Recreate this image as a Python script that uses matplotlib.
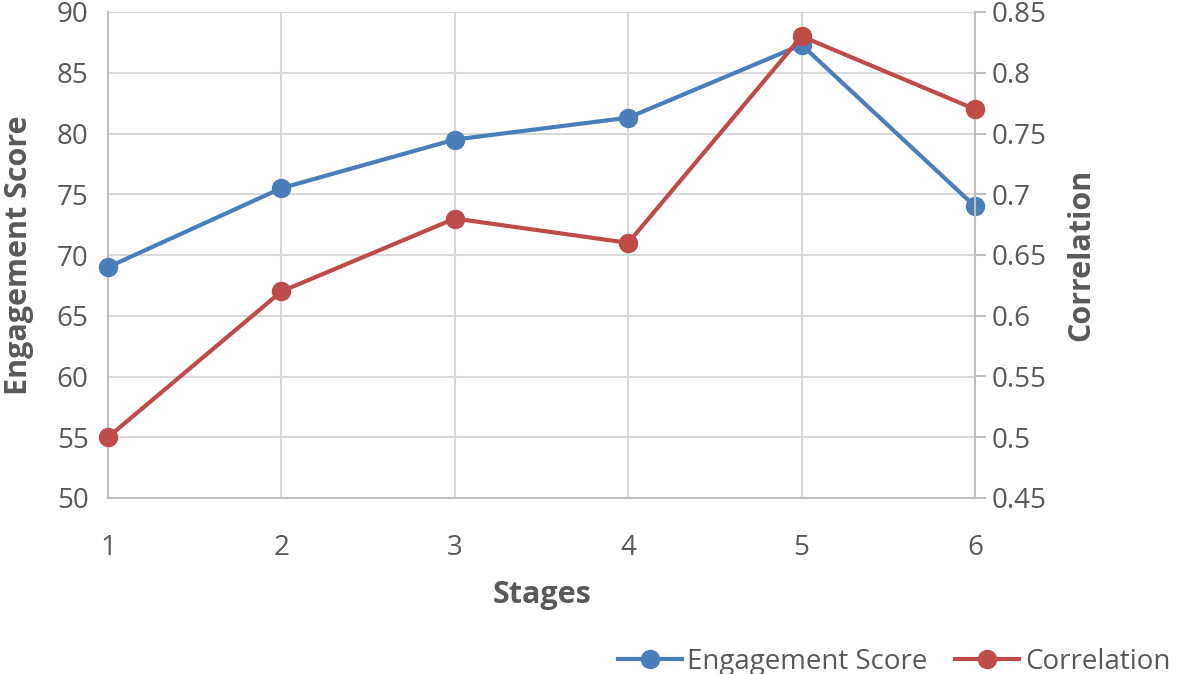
import matplotlib
matplotlib.use('Agg')
import matplotlib.pyplot as plt

plt.rcParams['font.family'] = ['Open Sans', 'DejaVu Sans']

stages = [1, 2, 3, 4, 5, 6]
engagement = [69.0, 75.5, 79.5, 81.3, 87.3, 74.0]
correlation = [0.50, 0.62, 0.68, 0.66, 0.83, 0.77]

blue = '#4a7ebb'
red = '#be4b48'
grey_txt = '#595959'
grid_c = '#d9d9d9'

fig = plt.figure(figsize=(11.81, 6.74), dpi=100)
ax = fig.add_axes([108 / 1181, 1 - 498 / 674, (975 - 108) / 1181, (498 - 12) / 674])
ax2 = ax.twinx()

l1, = ax.plot(stages, engagement, color=blue, lw=3, marker='o', ms=13,
              label='Engagement Score', zorder=3, clip_on=False)
l2, = ax2.plot(stages, correlation, color=red, lw=3, marker='o', ms=13,
               label='Correlation', zorder=3, clip_on=False)

ax.set_xlim(1, 6)
ax.set_ylim(50, 90)
ax.set_yticks(range(50, 91, 5))
ax.set_xticks(stages)
ax2.set_ylim(0.45, 0.85)
ax2.set_yticks([0.45, 0.5, 0.55, 0.6, 0.65, 0.7, 0.75, 0.8, 0.85])
ax2.set_yticklabels(['0.45', '0.5', '0.55', '0.6', '0.65', '0.7', '0.75', '0.8', '0.85'])

ax.grid(True, color=grid_c, lw=1.5)
ax.set_axisbelow(True)
for a in (ax, ax2):
    for s in a.spines.values():
        s.set_visible(False)
ax.spines['left'].set_visible(True)
ax.spines['left'].set_color('#bfbfbf')
ax.spines['left'].set_linewidth(1.5)
ax.spines['bottom'].set_visible(True)
ax.spines['bottom'].set_color('#bfbfbf')
ax.spines['bottom'].set_linewidth(1.5)
ax2.spines['right'].set_visible(True)
ax2.spines['right'].set_color('#bfbfbf')
ax2.spines['right'].set_linewidth(1.5)

ax.tick_params(axis='y', length=0, labelsize=20, labelcolor=grey_txt, pad=14)
ax.tick_params(axis='x', length=0, labelsize=20, labelcolor=grey_txt, pad=26)
ax2.tick_params(axis='y', length=8, width=1.5, color='#bfbfbf', labelsize=20,
                labelcolor=grey_txt, pad=4)

ax.set_xlabel('Stages', fontsize=22, fontweight='bold', color=grey_txt, labelpad=13)
ax.set_ylabel('Engagement Score', fontsize=22, fontweight='bold', color=grey_txt, labelpad=16)
ax2.set_ylabel('Correlation', fontsize=22, fontweight='bold', color=grey_txt, labelpad=14)

fig.legend(handles=[l1, l2], loc='lower right', bbox_to_anchor=(1.012, -0.04), ncol=2,
           frameon=False, fontsize=20, labelcolor=grey_txt, handlelength=2.3,
           columnspacing=1.0, handletextpad=0.2)

fig.savefig('out.png', dpi=100)
